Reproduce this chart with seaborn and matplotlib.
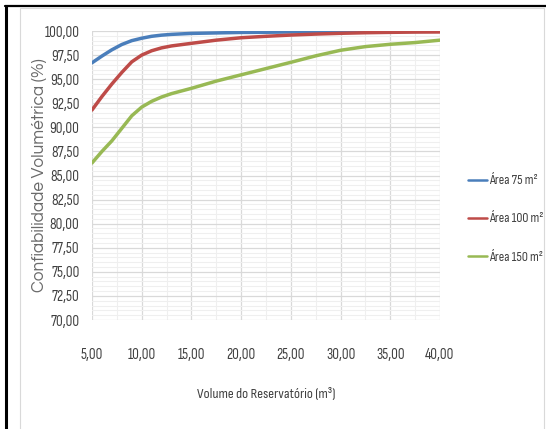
import matplotlib
matplotlib.use("Agg")
import matplotlib.pyplot as plt
from matplotlib.lines import Line2D
from matplotlib.patches import Rectangle
from matplotlib.ticker import MultipleLocator, FuncFormatter
import seaborn as sns
import pandas as pd
import logging

logging.getLogger("matplotlib.font_manager").setLevel(logging.ERROR)

# Reservoir volume (m³)
volume = [5, 6, 7, 8, 9, 10, 11, 12, 13, 15, 17.5, 20, 22.5, 25, 27.5, 30, 32.5, 35, 37.5, 40]

# Volumetric reliability (%) per roof area
area_75 = [96.7, 97.4, 98.05, 98.6, 99.0, 99.25, 99.45, 99.57, 99.65, 99.75, 99.8, 99.85,
           99.87, 99.9, 99.92, 99.93, 99.94, 99.95, 99.96, 99.97]
area_100 = [91.8, 93.2, 94.5, 95.7, 96.8, 97.5, 97.95, 98.25, 98.45, 98.72, 99.05, 99.3,
            99.45, 99.58, 99.68, 99.76, 99.82, 99.86, 99.89, 99.9]
area_150 = [86.3, 87.5, 88.6, 89.9, 91.2, 92.1, 92.7, 93.15, 93.5, 94.05, 94.8, 95.45,
            96.1, 96.75, 97.42, 98.0, 98.38, 98.62, 98.8, 99.05]

series_names = ["Área 75 m²", "Área 100 m²", "Área 150 m²"]
series_colors = ["#4A7EBB", "#BE4B48", "#98B954"]

df = pd.concat([
    pd.DataFrame({"volume": volume, "conf": vals, "serie": name})
    for name, vals in zip(series_names, [area_75, area_100, area_150])
], ignore_index=True)

sns.set_theme(style="white")
narrow = ["Sofia Sans Condensed", "PT Sans Narrow", "Roboto Condensed", "DejaVu Sans"]
wide = ["Questrial", "DejaVu Sans"]

W, H = 546, 429
fig = plt.figure(figsize=(W / 100, H / 100), dpi=100)
ax = fig.add_axes([92 / W, 1 - 320 / H, (440 - 92) / W, (320 - 31) / H])

sns.lineplot(data=df, x="volume", y="conf", hue="serie", palette=series_colors,
             hue_order=series_names, linewidth=2.5, ax=ax, legend=True)

ax.set_xlim(5, 40)
ax.set_ylim(70, 100)
ax.xaxis.set_major_locator(MultipleLocator(5))
ax.xaxis.set_minor_locator(MultipleLocator(2.5))
ax.yaxis.set_major_locator(MultipleLocator(2.5))
ax.yaxis.set_minor_locator(MultipleLocator(0.5))
fmt = FuncFormatter(lambda v, p: f"{v:.2f}".replace(".", ","))
ax.xaxis.set_major_formatter(fmt)
ax.yaxis.set_major_formatter(fmt)

ax.grid(which="major", color="#d9d9d9", linewidth=0.9)
ax.grid(which="minor", color="#efefef", linewidth=0.8)
ax.set_axisbelow(True)
for s in ax.spines.values():
    s.set_visible(False)
ax.tick_params(which="both", length=0)
ax.tick_params(axis="x", pad=20)
ax.tick_params(axis="y", pad=9)
for lab in ax.get_xticklabels() + ax.get_yticklabels():
    lab.set_family(narrow)
    lab.set_fontsize(10.8)
    lab.set_color("#404040")

ax.set_xlabel("Volume do Reservatório (m³)", family=narrow, fontsize=10.5,
              color="#404040", labelpad=19)
ax.set_ylabel("Confiabilidade Volumétrica (%)", family=wide, fontsize=12.3,
              color="#6a6a6a")
ax.yaxis.set_label_coords((47 - 92) / 348, 0.5)

leg = ax.legend(loc="center left", bbox_to_anchor=((468 - 92) / 348, 1 - (219 - 31) / 289),
                frameon=False, handlelength=1.4, handletextpad=0.15, borderpad=0,
                borderaxespad=0, labelspacing=1.85,
                prop={"family": narrow, "size": 9.8})
for t in leg.get_texts():
    t.set_color("#404040")
for h in leg.legend_handles:
    h.set_linewidth(1.8)

# chart area outline and outer page frame
fig.add_artist(Rectangle((20 / W, -0.01), (W - 22) / W, 1 - 8 / H + 0.01,
                         transform=fig.transFigure, fill=False,
                         edgecolor="#d9d9d9", linewidth=0.8))
fig.add_artist(Line2D([5 / W, 1], [1 - 6 / H, 1 - 6 / H], transform=fig.transFigure,
                      color="black", linewidth=1.6))
fig.add_artist(Line2D([6 / W, 6 / W], [0, 1 - 6 / H], transform=fig.transFigure,
                      color="black", linewidth=2.2))

fig.savefig("out.png", dpi=100)
